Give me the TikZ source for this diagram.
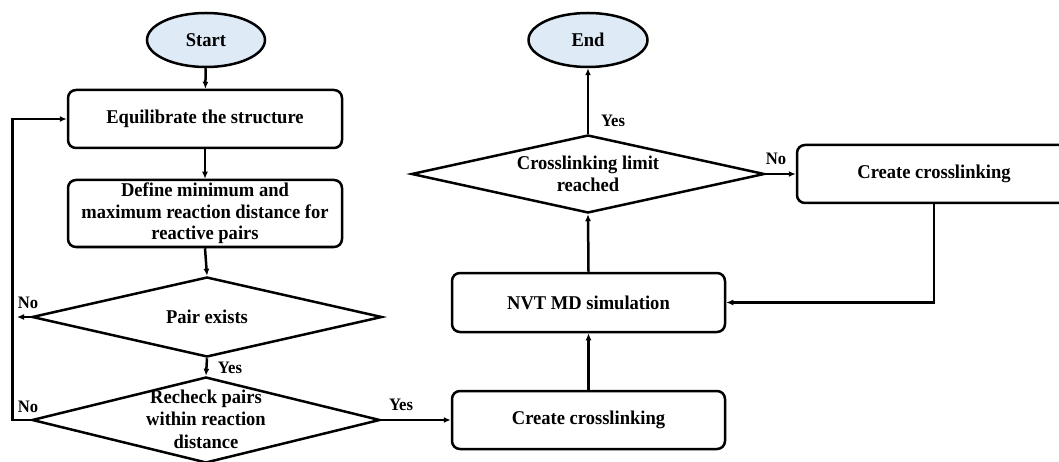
\documentclass[tikz,border=0pt]{standalone}
\usepackage{fontspec}
\setmainfont{Liberation Serif}[FakeStretch=0.95]
\usetikzlibrary{shapes.geometric,arrows.meta}
\definecolor{termfill}{RGB}{222,235,247}
\tikzset{
  every node/.style={font=\fontsize{19.5}{21.5}\selectfont\bfseries, inner sep=0pt},
  ln/.style={line width=2.5pt, line join=miter},
  arr/.style={ln, -{Latex[length=7pt,width=6pt]}},
  term/.style={ellipse, draw, ln, fill=termfill},
  procbox/.style={rectangle, rounded corners=8pt, draw, ln},
  decis/.style={diamond, draw, ln},
  dtext/.style={align=center},
  lbl/.style={font=\fontsize{17.5}{20}\selectfont\bfseries}
}
\begin{document}
\begin{tikzpicture}[x=1pt,y=-1pt]
\useasboundingbox (0,0) rectangle (1059,462);
\clip (0,0) rectangle (1059,462);
% left column
\node[term, minimum width=118pt, minimum height=54pt] (start) at (206,40) {Start};
\node[procbox, minimum width=274pt, minimum height=58pt] (eq) at (205,119) {Equilibrate the structure};
\node[procbox, minimum width=274pt, minimum height=67pt, align=center] (def) at (205,213.5) {Define minimum and\\maximum reaction distance for\\reactive pairs};
\node[decis, minimum width=350pt, minimum height=80pt] (pair) at (207,317) {};
\node[dtext] (pairtxt) at (pair.center) {Pair exists};
\node[decis, minimum width=348pt, minimum height=86pt] (rech) at (206,420) {};
\node[dtext, font=\fontsize{19.5}{22.5}\selectfont\bfseries] (rechtxt) at ([yshift=1pt]rech.center) {Recheck pairs\\within reaction\\distance};
% right part
\node[procbox, minimum width=273pt, minimum height=58pt] (cc1) at (588.5,420) {Create crosslinking};
\node[procbox, minimum width=273pt, minimum height=59pt] (nvt) at (588.5,302.5) {NVT MD simulation};
\node[decis, minimum width=353pt, minimum height=78pt] (lim) at (588,174) {};
\node[dtext, font=\fontsize{19.5}{22.5}\selectfont\bfseries] (limtxt) at (lim.center) {Crosslinking limit\\reached};
\node[term, minimum width=119pt, minimum height=54pt] (end) at (588,40) {End};
\node[procbox, minimum width=274pt, minimum height=58pt] (cc2) at (934,174) {Create crosslinking};
% loop coordinates
\coordinate (noend) at (17,317);
\coordinate (loopc) at (12.7,420);
% connectors
\draw[arr] (start) -- (eq);
\draw[arr] (eq) -- (def);
\draw[arr] (def.south) -- (pair.north);
\draw[arr] (pair.south) -- (rech.north);
\draw[arr] (pair.west) -- (noend);
\draw[arr] (rech.west) -- (loopc) |- (eq.west);
\draw[arr] (rech.east) -- (cc1.west);
\draw[arr] (cc1.north) -- (nvt.south);
\draw[arr] (nvt.north) -- (lim.south);
\draw[arr] (lim.north) -- (end.south);
\draw[arr] (lim.east) -- (cc2.west);
\draw[arr] (cc2.south) |- (nvt.east);
% labels
\node[lbl] (yes1) at (230,368) {Yes};
\node[lbl] (no1) at (28,303) {No};
\node[lbl] (no2) at (28,407) {No};
\node[lbl] (yes2) at (401,405) {Yes};
\node[lbl] (yes3) at (613,121) {Yes};
\node[lbl] (no3) at (776,159) {No};
\end{tikzpicture}
\end{document}
